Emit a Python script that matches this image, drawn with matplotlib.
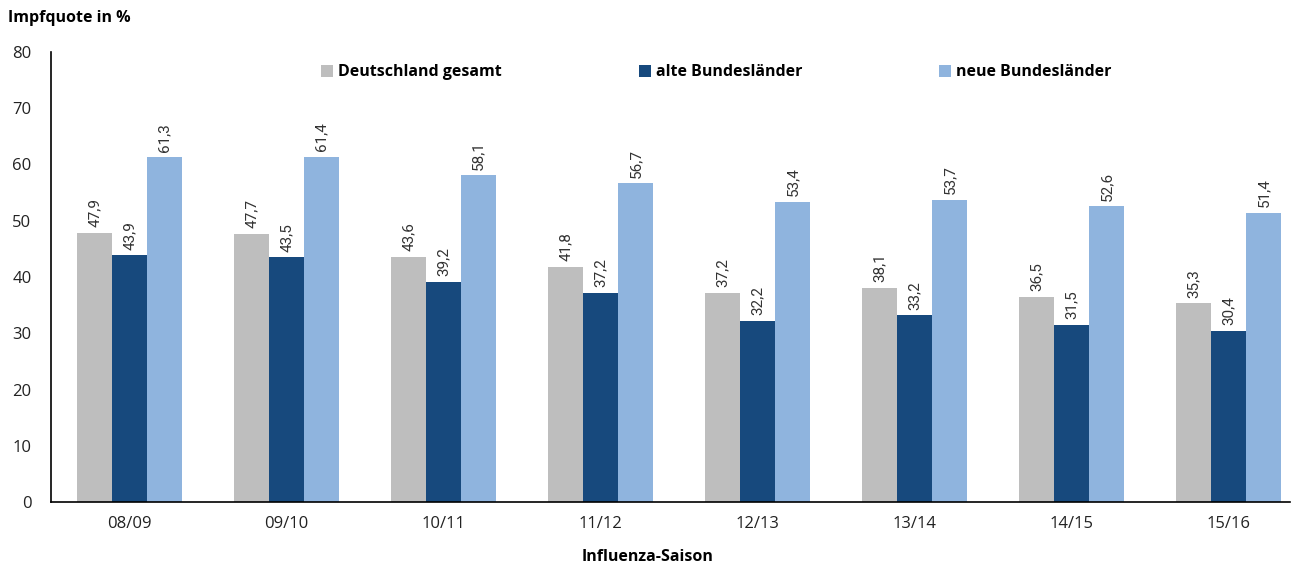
import matplotlib
matplotlib.use('Agg')
import numpy as np
import matplotlib.pyplot as plt
from matplotlib import font_manager

seasons = ['08/09', '09/10', '10/11', '11/12', '12/13', '13/14', '14/15', '15/16']
gesamt = [47.9, 47.7, 43.6, 41.8, 37.2, 38.1, 36.5, 35.3]
alte = [43.9, 43.5, 39.2, 37.2, 32.2, 33.2, 31.5, 30.4]
neue = [61.3, 61.4, 58.1, 56.7, 53.4, 53.7, 52.6, 51.4]
series_names = ['Deutschland gesamt', 'alte Bundesländer', 'neue Bundesländer']
colors = ['#BEBEBE', '#17497D', '#8FB4DE']

names = {f.name for f in font_manager.fontManager.ttflist}
narrow = 'Liberation Sans Narrow' if 'Liberation Sans Narrow' in names else 'Roboto'
plt.rcParams['font.family'] = ['Open Sans', 'DejaVu Sans']

fig = plt.figure(figsize=(12.94, 5.68), dpi=100)
ax = fig.add_axes([51 / 1294, 66 / 568, (1290 - 51) / 1294, 450 / 568])

x = np.arange(len(seasons))
w = 0.223
for i, (vals, name, c) in enumerate(zip([gesamt, alte, neue], series_names, colors)):
    bars = ax.bar(x + (i - 1) * w, vals, w, color=c, label=name)
    for b, v in zip(bars, vals):
        ax.annotate(f'{v:.1f}'.replace('.', ','), (b.get_x() + b.get_width() / 2, v),
                    xytext=(0, 4), textcoords='offset points', rotation=90,
                    ha='center', va='bottom', fontsize=11, color='#333333',
                    family=narrow)

ax.set_ylim(0, 80)
ax.set_xlim(-0.5, 7.39)
ax.set_yticks(range(0, 81, 10))
ax.set_xticks(x)
ax.set_xticklabels(seasons)
ax.tick_params(length=0, labelsize=12, colors='#222222')
ax.tick_params(axis='y', pad=14)
ax.tick_params(axis='x', pad=10)
for s in ['top', 'right']:
    ax.spines[s].set_visible(False)
for s in ['left', 'bottom']:
    ax.spines[s].set_linewidth(1.2)

ax.set_xlabel('Influenza-Saison', fontsize=11.5, fontweight='bold')
ax.xaxis.set_label_coords((648 - 51) / 1239, -47 / 450)
fig.text(8 / 1294, 1 - 18 / 568, 'Impfquote in %', fontsize=11.5, fontweight='bold',
         va='center', ha='left')

leg = ax.legend(loc='center', bbox_to_anchor=(0.537, 0.955), ncol=3, frameon=False,
                handlelength=0.75, handleheight=0.75, handletextpad=0.3,
                columnspacing=8.6, prop={'size': 11.5, 'weight': 'bold'})

fig.savefig('out.png', dpi=100)
